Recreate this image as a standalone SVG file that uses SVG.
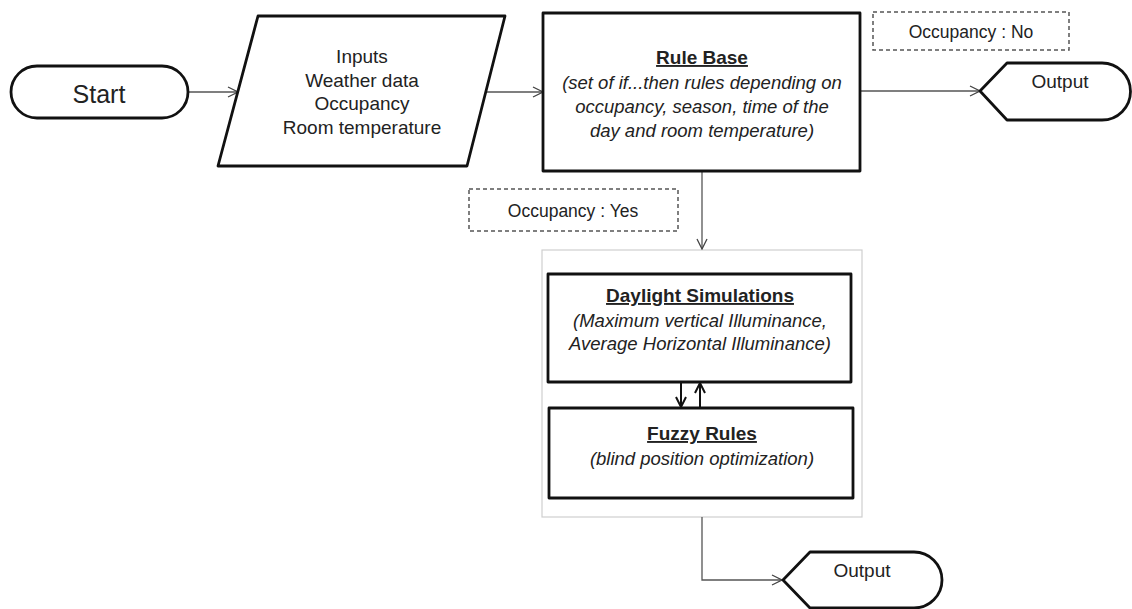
<svg xmlns="http://www.w3.org/2000/svg" width="1132" height="609" viewBox="0 0 1132 609">
<defs>
<marker id="arr" viewBox="0 0 12 12" refX="11" refY="6" markerWidth="12" markerHeight="12" markerUnits="userSpaceOnUse" orient="auto">
<path d="M1,1 L11,6 L1,11" fill="none" stroke="#444" stroke-width="1.3"/>
</marker>
<marker id="arrb" viewBox="0 0 12 12" refX="11" refY="6" markerWidth="12" markerHeight="12" markerUnits="userSpaceOnUse" orient="auto">
<path d="M1,1 L11,6 L1,11" fill="none" stroke="#111" stroke-width="2"/>
</marker>
</defs>
<style>
.shape{fill:#fff;stroke:#111;stroke-width:2.8;stroke-linejoin:round}
.dash{fill:#fff;stroke:#555;stroke-width:1.5;stroke-dasharray:4 3}
.cont{fill:#fff;stroke:#cfcfcf;stroke-width:1.2}
.conn{fill:none;stroke:#555;stroke-width:1.3}
.connb{fill:none;stroke:#111;stroke-width:2}
text{font-family:"Liberation Sans",Arial,sans-serif;fill:#222;text-anchor:middle}
.t{font-size:19px}
.h{font-size:19px;font-weight:bold;text-decoration:underline}
.i{font-size:18.5px;font-style:italic}
</style>
<rect width="1132" height="609" fill="#fff"/>
<g id="container">
<rect class="cont" x="542" y="250" width="320" height="267"/>
</g>
<g id="connectors">
<line class="conn" x1="188" y1="92" x2="238" y2="92" marker-end="url(#arr)"/>
<line class="conn" x1="484" y1="92" x2="543" y2="92" marker-end="url(#arr)"/>
<line class="conn" x1="860" y1="91" x2="980" y2="91" marker-end="url(#arr)"/>
<line class="conn" x1="702" y1="171" x2="702" y2="249" marker-end="url(#arr)"/>
<line class="connb" x1="681" y1="382" x2="681" y2="407" marker-end="url(#arrb)"/>
<line class="connb" x1="700" y1="408" x2="700" y2="383" marker-end="url(#arrb)"/>
<polyline class="conn" points="702,517 702,580 782,580" marker-end="url(#arr)"/>
</g>
<g id="start">
<rect class="shape" x="11" y="66" width="177" height="52" rx="26" ry="26"/>
<text x="99" y="103" style="font-size:25px">Start</text>
</g>
<g id="inputs">
<polygon class="shape" points="258,16 505,16 467,166 218,166"/>
<text class="t" x="362" y="63">Inputs</text>
<text class="t" x="362" y="87">Weather data</text>
<text class="t" x="362" y="110">Occupancy</text>
<text class="t" x="362" y="134">Room temperature</text>
</g>
<g id="rulebase">
<rect class="shape" x="543" y="13" width="317" height="158"/>
<text class="h" x="702" y="64">Rule Base</text>
<text class="i" x="702" y="89">(set of if...then rules depending on</text>
<text class="i" x="702" y="113">occupancy, season, time of the</text>
<text class="i" x="702" y="137">day and room temperature)</text>
</g>
<g id="occ-no">
<rect class="dash" x="873" y="12" width="196" height="38"/>
<text class="t" x="971" y="38" style="font-size:17.5px">Occupancy : No</text>
</g>
<g id="output1">
<path class="shape" d="M980,91 L1007,63 L1102,63 A28.5,28.5 0 0 1 1102,120 L1007,120 Z"/>
<text class="t" x="1060" y="88">Output</text>
</g>
<g id="occ-yes">
<rect class="dash" x="469" y="189" width="209" height="42"/>
<text class="t" x="573" y="217" style="font-size:17.5px">Occupancy : Yes</text>
</g>
<g id="daylight">
<rect class="shape" x="548" y="274" width="303" height="108"/>
<text class="h" x="700" y="302">Daylight Simulations</text>
<text class="i" x="700" y="327">(Maximum vertical Illuminance,</text>
<text class="i" x="700" y="350">Average Horizontal Illuminance)</text>
</g>
<g id="fuzzy">
<rect class="shape" x="549" y="408" width="304" height="90"/>
<text class="h" x="702" y="440">Fuzzy Rules</text>
<text class="i" x="702" y="465">(blind position optimization)</text>
</g>
<g id="output2">
<path class="shape" d="M783,580 L810,552 L914,552 A28,28 0 0 1 914,608 L810,608 Z"/>
<text class="t" x="862" y="577">Output</text>
</g>
</svg>
